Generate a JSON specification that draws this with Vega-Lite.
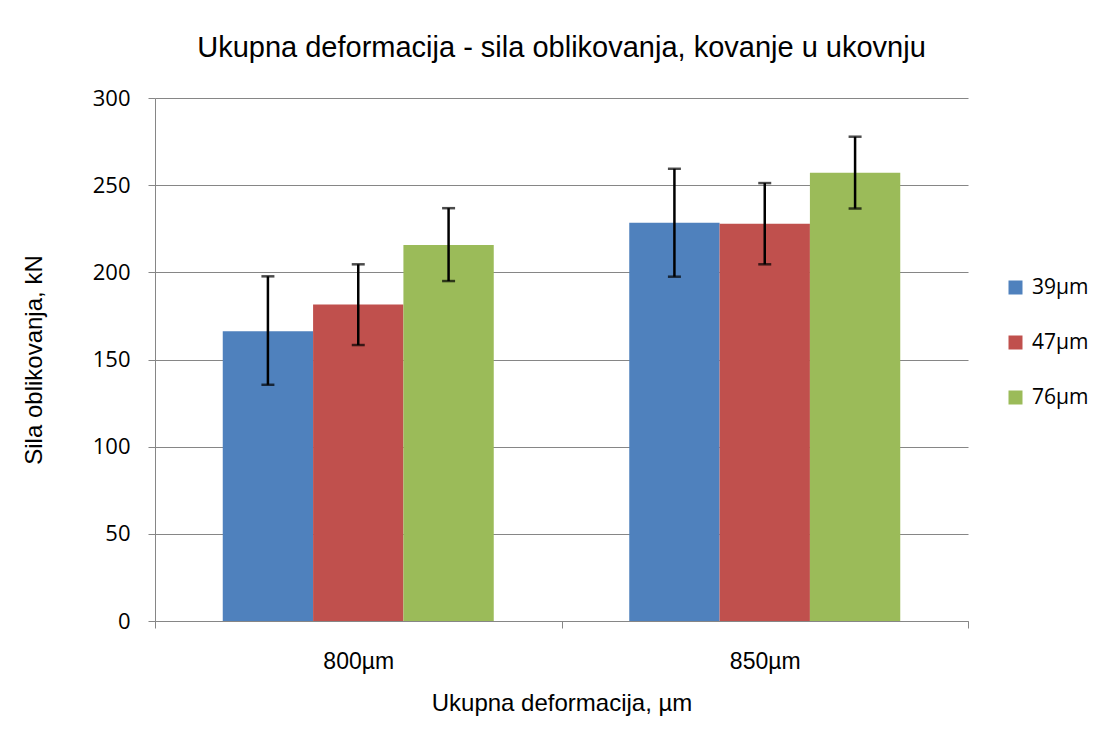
{
  "$schema": "https://vega.github.io/schema/vega-lite/v6.json",
  "width": 813,
  "height": 523,
  "autosize": {"type": "none"},
  "padding": {"left": 155, "top": 98, "right": 139, "bottom": 132},
  "background": "white",
  "title": {
    "text": "Ukupna deformacija - sila oblikovanja, kovanje u ukovnju",
    "font": "Liberation Sans",
    "fontSize": 29,
    "fontWeight": "normal",
    "color": "black",
    "anchor": "middle",
    "offset": 24
  },
  "data": {
    "values": [
      {"def": "800µm", "grp": "39µm", "value": 166.2, "lo": 135.5, "hi": 197.7},
      {"def": "800µm", "grp": "47µm", "value": 181.5, "lo": 158.3, "hi": 204.6},
      {"def": "800µm", "grp": "76µm", "value": 215.7, "lo": 195.0, "hi": 236.8},
      {"def": "850µm", "grp": "39µm", "value": 228.4, "lo": 197.5, "hi": 259.4},
      {"def": "850µm", "grp": "47µm", "value": 227.8, "lo": 204.6, "hi": 251.2},
      {"def": "850µm", "grp": "76µm", "value": 257.1, "lo": 236.6, "hi": 277.8}
    ]
  },
  "encoding": {
    "x": {
      "field": "def", "type": "nominal",
      "scale": {"paddingInner": 0, "paddingOuter": 0},
      "axis": {
        "title": "Ukupna deformacija, µm",
        "titleFont": "Liberation Sans", "titleFontSize": 24, "titleFontWeight": "normal", "titleColor": "black",
        "titlePadding": 18,
        "labelFont": "Liberation Sans", "labelFontSize": 23, "labelColor": "black", "labelAngle": 0, "labelPadding": 22,
        "tickBand": "extent", "tickSize": 7, "tickColor": "#868686", "domainColor": "#868686", "grid": false
      }
    },
    "xOffset": {"field": "grp", "type": "nominal", "scale": {"paddingInner": 0, "paddingOuter": 0.75}}
  },
  "layer": [
    {
      "mark": {"type": "bar"},
      "encoding": {
        "y": {
          "field": "value", "type": "quantitative",
          "scale": {"domain": [0, 300]},
          "axis": {
            "title": "Sila oblikovanja, kN",
            "titleFont": "Liberation Sans", "titleFontSize": 24, "titleFontWeight": "normal", "titleColor": "black",
            "titlePadding": 46,
            "values": [0, 50, 100, 150, 200, 250, 300],
            "labelFont": "Open Sans", "labelFontSize": 22, "labelColor": "black", "labelPadding": 18,
            "tickSize": 7, "tickColor": "#868686", "domainColor": "#868686",
            "gridColor": "#868686", "gridWidth": 1.2
          }
        },
        "color": {
          "field": "grp", "type": "nominal",
          "scale": {"range": ["#4F81BD", "#C0504D", "#9BBB59"]},
          "legend": {
            "title": null, "orient": "none", "legendX": 850, "legendY": 179,
            "symbolType": "square", "symbolSize": 196, "symbolStrokeWidth": 0,
            "labelFont": "Open Sans", "labelFontSize": 21, "labelColor": "black",
            "rowPadding": 33, "labelOffset": 6
          }
        }
      }
    },
    {
      "mark": {"type": "rule", "color": "black", "strokeWidth": 2.5},
      "encoding": {
        "y": {"field": "lo", "type": "quantitative"},
        "y2": {"field": "hi"}
      }
    },
    {
      "mark": {"type": "tick", "color": "black", "thickness": 2.5, "size": 13, "orient": "horizontal"},
      "encoding": {"y": {"field": "lo", "type": "quantitative"}}
    },
    {
      "mark": {"type": "tick", "color": "black", "thickness": 2.5, "size": 13, "orient": "horizontal"},
      "encoding": {"y": {"field": "hi", "type": "quantitative"}}
    }
  ],
  "config": {"view": {"stroke": null}}
}
